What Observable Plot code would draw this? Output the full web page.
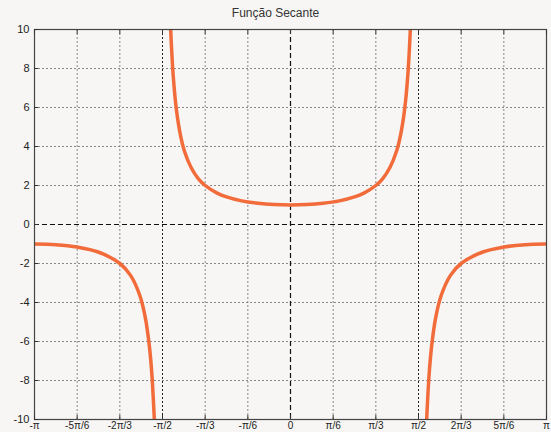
<!DOCTYPE html>
<html>
<head>
<meta charset="utf-8">
<script src="https://cdn.jsdelivr.net/npm/d3@7"></script>
<script src="https://cdn.jsdelivr.net/npm/@observablehq/plot@0.6"></script>
<style>
  html, body { margin: 0; padding: 0; background: #f7f6f4; overflow: hidden; }
  #title { height: 23px; width: 551px; text-align: center; font: 12px "Liberation Sans", Arial, sans-serif; color: #333; line-height: 26px; }
  #chart svg { background: #f7f6f4 !important; overflow: visible; }
</style>
</head>
<body>
<div id="title">Função Secante</div>
<div id="chart"></div>
<script>
const PI = Math.PI;
// tick values (in units of π) and labels
const xTickFrac = [-1, -5/6, -2/3, -1/2, -1/3, -1/6, 0, 1/6, 1/3, 1/2, 2/3, 5/6, 1];
const xTickLabels = ["-π", "-5π/6", "-2π/3", "-π/2", "-π/3", "-π/6", "0", "π/6", "π/3", "π/2", "2π/3", "5π/6", "π"];
const yTicks = [-10, -8, -6, -4, -2, 0, 2, 4, 6, 8, 10];

// curve points (x in radians)
const leftX  = [-3.1416, -2.88, -2.618, -2.36, -2.094, -1.963, -1.85, -1.78, -1.73, -1.70, -1.671];
const leftY  = [-1.00, -1.035, -1.155, -1.41, -2.00, -2.61, -3.63, -4.81, -6.31, -7.76, -10.0];
const midX   = [-1.4706, -1.44, -1.40, -1.35, -1.30, -1.22, -1.13, -1.047, -0.90, -0.785, -0.60, -0.40, -0.20, 0,
                0.20, 0.40, 0.60, 0.785, 0.90, 1.047, 1.13, 1.22, 1.30, 1.35, 1.40, 1.44, 1.4706];
const midY   = [10.0, 7.67, 5.88, 4.57, 3.74, 2.92, 2.34, 2.00, 1.61, 1.414, 1.21, 1.086, 1.02, 1.00,
                1.02, 1.086, 1.21, 1.414, 1.61, 2.00, 2.34, 2.92, 3.74, 4.57, 5.88, 7.67, 10.0];
const rightX = [1.671, 1.70, 1.73, 1.78, 1.85, 1.963, 2.094, 2.36, 2.618, 2.88, 3.1416];
const rightY = [-10.0, -7.76, -6.31, -4.81, -3.63, -2.61, -2.00, -1.41, -1.155, -1.035, -1.00];

const xTicks = xTickFrac.map(f => f * PI);
const labelOf = new Map(xTicks.map((v, i) => [v, xTickLabels[i]]));

const branch = (xs, ys, id) => xs.map((x, i) => ({x, y: ys[i], id}));
const curve = [...branch(leftX, leftY, "a"), ...branch(midX, midY, "b"), ...branch(rightX, rightY, "c")];

const gridX = xTicks.filter((v, i) => xTickFrac[i] !== 0 && Math.abs(xTickFrac[i]) !== 1 && Math.abs(xTickFrac[i]) !== 0.5);
const asymX = xTicks.filter((v, i) => Math.abs(xTickFrac[i]) === 0.5);
const gridY = yTicks.filter(v => v !== 0 && Math.abs(v) !== 10);

const marks = [
  Plot.ruleX(gridX, {stroke: "#888", strokeWidth: 1, strokeDasharray: "2,2"}),
  Plot.ruleY(gridY, {stroke: "#888", strokeWidth: 1, strokeDasharray: "2,2"}),
  Plot.ruleX(asymX, {stroke: "#222", strokeWidth: 1, strokeDasharray: "2,2"}),
  Plot.ruleY([0], {stroke: "#111", strokeWidth: 1.2, strokeDasharray: "5,3"}),
  Plot.ruleX([0], {stroke: "#111", strokeWidth: 1.2, strokeDasharray: "5,3"}),
  Plot.line(curve, {x: "x", y: "y", z: "id", curve: "catmull-rom", stroke: "#f26b3a", strokeWidth: 3.5, clip: true}),
  Plot.frame({stroke: "#444", strokeWidth: 1.2})
];
if (Plot.axisX) {
  marks.push(
    Plot.axisX(xTicks, {anchor: "bottom", tickSize: 0, tickPadding: 2, tickFormat: d => labelOf.get(d), fontSize: 10, fill: "#222"}),
    Plot.axisX(xTicks, {anchor: "bottom", tickSize: -4, tickFormat: () => "", stroke: "#333"}),
    Plot.axisX(xTicks, {anchor: "top", tickSize: -4, tickFormat: () => "", stroke: "#333"}),
    Plot.axisY(yTicks, {anchor: "left", tickSize: -4, tickPadding: 9, tickFormat: d => String(d), fontSize: 11, fill: "#222", stroke: "#333"})
  );
}

const chart = Plot.plot({
  width: 551,
  height: 409,
  marginTop: 6,
  marginLeft: 34,
  marginRight: 5,
  marginBottom: 13,
  style: {background: "#f7f6f4", fontFamily: "'Liberation Sans', Arial, sans-serif", fontSize: "11px", color: "#222"},
  x: {domain: [-PI, PI], ticks: xTicks, tickFormat: d => labelOf.get(d), tickSize: 0, label: null, axis: Plot.axisX ? null : "bottom"},
  y: {domain: [-10, 10], ticks: yTicks, tickSize: 0, label: null, axis: Plot.axisX ? null : "left"},
  marks
});
document.getElementById("chart").appendChild(chart);
</script>
</body>
</html>
